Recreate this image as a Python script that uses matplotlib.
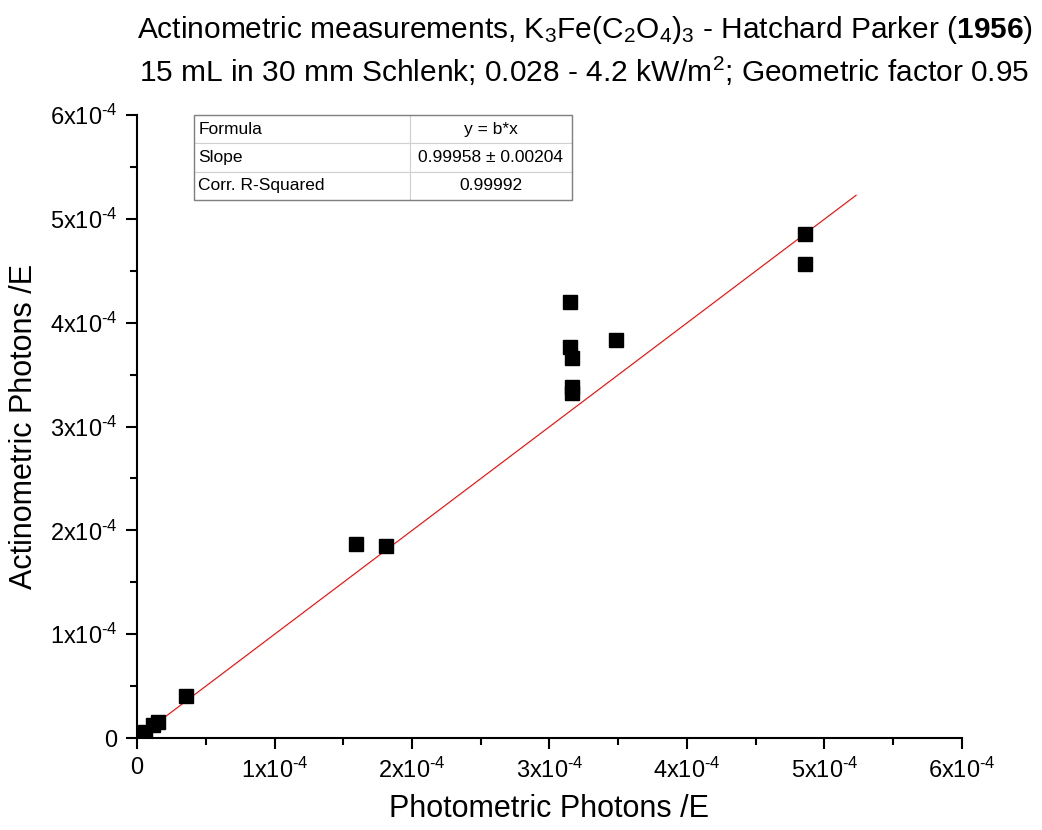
import numpy as np
import matplotlib
matplotlib.use('Agg')
import matplotlib.pyplot as plt
from matplotlib.ticker import MultipleLocator, FuncFormatter

plt.rcParams['font.family'] = ['Liberation Sans', 'DejaVu Sans']
plt.rcParams['mathtext.fontset'] = 'custom'
plt.rcParams['mathtext.rm'] = 'Liberation Sans'
plt.rcParams['mathtext.it'] = 'Liberation Sans:italic'
plt.rcParams['mathtext.bf'] = 'Liberation Sans:bold'
plt.rcParams['mathtext.default'] = 'regular'

photometric = [0.01, 0.034, 0.058, 0.119, 0.155, 0.356, 1.593, 1.809,
               3.149, 3.149, 3.164, 3.164, 3.164, 3.487, 4.858, 4.858]
actinometric = [0.005, 0.029, 0.061, 0.125, 0.157, 0.405, 1.869, 1.853,
                4.20, 3.77, 3.66, 3.38, 3.32, 3.83, 4.855, 4.57]
slope = 0.99958
slope_err = 0.00204
r2 = 0.99992
fit_range = [0.0, 5.23]

x = np.array(photometric) * 1e-4
y = np.array(actinometric) * 1e-4

fig = plt.figure(figsize=(10.42, 8.30), dpi=100)
ax = fig.add_axes([0.1315, 0.1108, 0.7917, 0.7506])

xf = np.array(fit_range) * 1e-4
ax.plot(xf, slope * xf, color='#ff0000', lw=0.8, zorder=2)
ax.plot(x, y, linestyle='None', marker='s', color='black', markersize=10, zorder=3)

ax.set_xlim(0, 6e-4)
ax.set_ylim(0, 6e-4)

def fmt(v, pos):
    n = int(round(v * 1e4))
    if n == 0:
        return '0'
    return '{}x10$^{{\\text{{-}}4}}$'.format(n)

for a in (ax.xaxis, ax.yaxis):
    a.set_major_locator(MultipleLocator(1e-4))
    a.set_minor_locator(MultipleLocator(0.5e-4))
    a.set_major_formatter(FuncFormatter(fmt))
ax.tick_params(which='major', direction='out', length=8, width=1.5, labelsize=17, pad=6)
ax.tick_params(which='minor', direction='out', length=5, width=1.5)
for s in ['top', 'right']:
    ax.spines[s].set_visible(False)
for s in ['left', 'bottom']:
    ax.spines[s].set_linewidth(1.5)

ax.set_xlabel('Photometric Photons /E', fontsize=22, labelpad=8)
ax.set_ylabel('Actinometric Photons /E', fontsize=22, labelpad=8)

fig.text(0.561, 0.964, r'Actinometric measurements, K$_3$Fe(C$_2$O$_4$)$_3$ - Hatchard Parker ($\mathbf{1956}$)',
         ha='center', va='center', fontsize=21.5)
fig.text(0.561, 0.914, r'15 mL in 30 mm Schlenk; 0.028 - 4.2 kW/m$^2$; Geometric factor 0.95',
         ha='center', va='center', fontsize=21.5)

# Tabelle mit Fit-Ergebnis
cells = [['Formula', 'y = b*x'],
         ['Slope', '{:.5f} \u00b1 {:.5f}'.format(slope, slope_err)],
         ['Corr. R-Squared', '{:.5f}'.format(r2)]]
tab = ax.table(cellText=cells, colWidths=[0.571, 0.429],
               bbox=[0.069, 0.8636, 0.458, 0.1364], zorder=5)
tab.auto_set_font_size(False)
tab.set_fontsize(12.5)
for (r, c), cell in tab.get_celld().items():
    cell.set_edgecolor('#d0d0d0')
    cell.set_linewidth(0.8)
    cell.set_text_props(ha='left' if c == 0 else 'center')
    if c == 0:
        cell.PAD = 0.02
rect = plt.Rectangle((0.069, 0.8636), 0.458, 0.1364, transform=ax.transAxes,
                     fill=False, edgecolor='#808080', lw=1.0, zorder=6, clip_on=False)
ax.add_patch(rect)

plt.savefig('out.png', dpi=100)
